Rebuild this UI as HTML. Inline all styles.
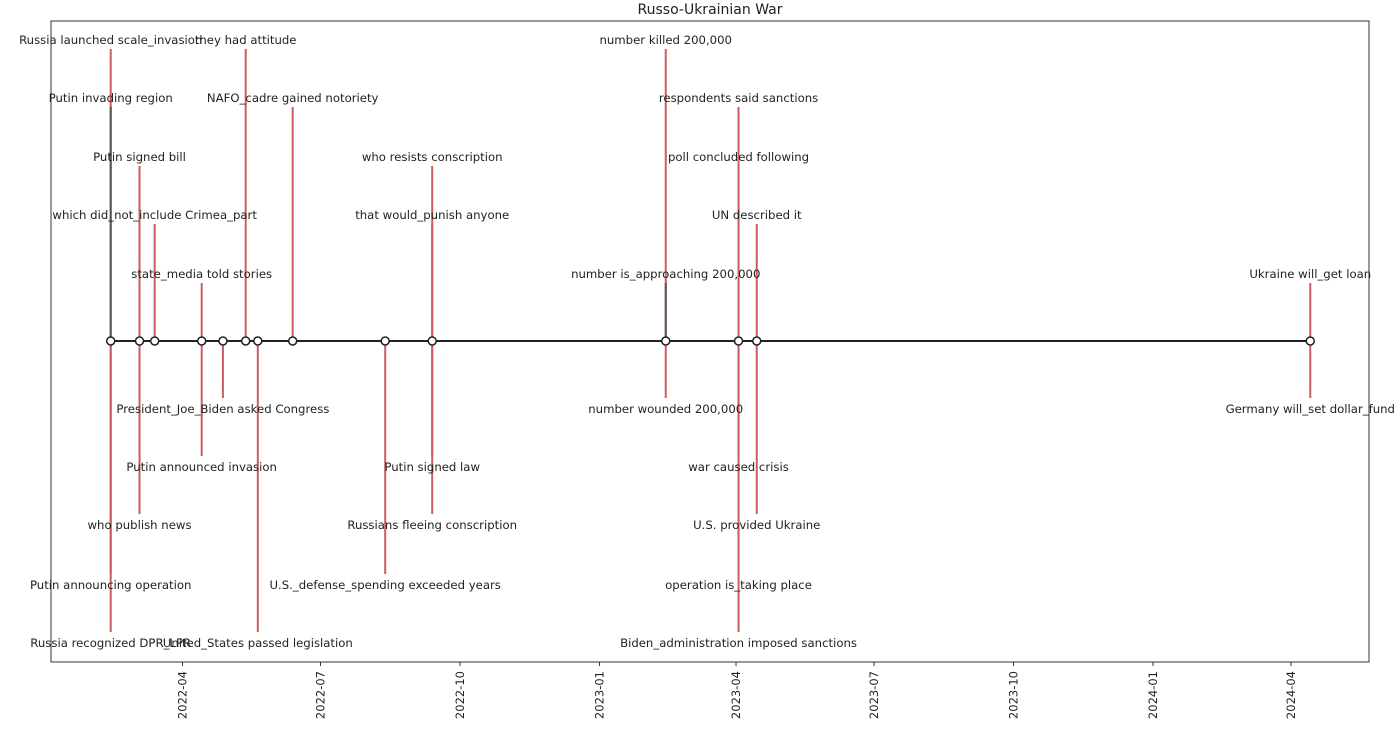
<!DOCTYPE html>
<html><head><meta charset="utf-8"><style>
html,body{margin:0;padding:0;background:#fff;}
svg text{font-family:"DejaVu Sans","Liberation Sans",sans-serif;fill:#222;}
</style></head><body>
<svg id="chart" width="1400" height="730" viewBox="0 0 1400 730" xmlns="http://www.w3.org/2000/svg">
<text x="710" y="14" font-size="14" text-anchor="middle">Russo-Ukrainian War</text>
<rect x="51" y="21" width="1318" height="641" fill="none" stroke="#333" stroke-width="1"/>
<g id="stems"></g>
<line x1="111" y1="341" x2="1309" y2="341" stroke="#222" stroke-width="2"/>
<g id="markers"></g>
<g id="labels"></g>
<g id="ticks"></g>
</svg>
<script>
const eventDates = ["2022-02-12","2022-02-12","2022-02-12","2022-02-12","2022-03-03","2022-03-03","2022-03-13","2022-04-13","2022-04-13","2022-04-27","2022-05-12","2022-05-20","2022-06-12","2022-08-12","2022-09-12","2022-09-12","2022-09-12","2022-09-12","2023-02-13","2023-02-13","2023-02-13","2023-04-02","2023-04-02","2023-04-02","2023-04-02","2023-04-02","2023-04-14","2023-04-14","2024-04-13","2024-04-13"];
const eventLabels = ["Russia launched scale_invasion","Putin invading region","Putin announcing operation","Russia recognized DPR_LPR","Putin signed bill","who publish news","which did_not_include Crimea_part","state_media told stories","Putin announced invasion","President_Joe_Biden asked Congress","they had attitude","United_States passed legislation","NAFO_cadre gained notoriety","U.S._defense_spending exceeded years","who resists conscription","that would_punish anyone","Putin signed law","Russians fleeing conscription","number killed 200,000","number is_approaching 200,000","number wounded 200,000","respondents said sanctions","poll concluded following","war caused crisis","operation is_taking place","Biden_administration imposed sanctions","UN described it","U.S. provided Ukraine","Ukraine will_get loan","Germany will_set dollar_fund"];
const eventLevels = [5,4,-4,-5,3,-3,2,1,-2,-1,5,-5,4,-4,3,2,-2,-3,5,1,-1,4,3,-2,-4,-5,2,-3,1,-1];
const darkStem = [0,1,0,0,0,0,0,0,0,0,0,0,0,0,0,0,0,0,0,1,0,0,0,0,0,0,0,0,0,0];
const tickLabels = ["2022-04","2022-07","2022-10","2023-01","2023-04","2023-07","2023-10","2024-01","2024-04"];

const NS="http://www.w3.org/2000/svg";
const t0=Date.UTC(2022,3,1);
function xScale(d){const p=d.split("-").map(Number);const t=Date.UTC(p[0],p[1]-1,p[2]||1);return 182.5+(t-t0)/86400000*1.5165;}
function yLevel(l){const above={1:274,2:215,3:157,4:98,5:40};const below={1:409,2:467,3:525,4:585,5:643};return l>0?above[l]:below[-l];}
function mk(tag,attrs,parent){const e=document.createElementNS(NS,tag);for(const k in attrs)e.setAttribute(k,attrs[k]);parent.appendChild(e);return e;}
const gS=document.getElementById("stems"),gM=document.getElementById("markers"),gL=document.getElementById("labels"),gT=document.getElementById("ticks");
const seen={};
eventDates.forEach((d,i)=>{
  const x=xScale(d)+1,ty=yLevel(eventLevels[i]);
  const yEnd=eventLevels[i]>0?ty+9:ty-11;
  const s=mk("line",{x1:x,y1:341,x2:x,y2:yEnd,stroke:darkStem[i]?"#555":"#cd5c5c","stroke-width":2},gS);
  
  
  const t=mk("text",{x:x,y:ty+4,"font-size":11.7,"text-anchor":"middle"},gL);
  t.textContent=eventLabels[i];
  
  
  if(!seen[d]){seen[d]=1;
    const c=mk("circle",{cx:x,cy:341,r:4,fill:"#fff",stroke:"#222","stroke-width":1.5},gM);
    
    
  }
});
tickLabels.forEach(tl=>{
  const x=xScale(tl+"-01");
  const l=mk("line",{x1:x,y1:662,x2:x,y2:666,stroke:"#333","stroke-width":1},gT);
  
  
  const t=mk("text",{x:0,y:0,"font-size":11.5,"text-anchor":"end",transform:"translate("+(x+4)+",671) rotate(-90)"},gT);
  t.textContent=tl;
  
  
});
</script>
</body></html>
